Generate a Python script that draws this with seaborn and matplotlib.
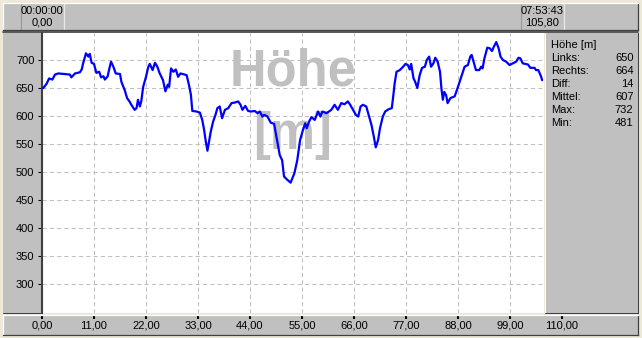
import matplotlib
matplotlib.use("Agg")
import matplotlib.pyplot as plt
import matplotlib.transforms as mtransforms
from matplotlib.patches import Rectangle
from matplotlib.lines import Line2D
import seaborn as sns
import pandas as pd

# ---------------- data ----------------
dist_km = [0.0, 0.3, 1.0, 1.5, 2.2, 2.75, 3.45, 5.9, 6.2, 7.0, 8.0, 8.4, 8.7, 9.3, 9.8,
           10.1, 10.5, 11.0, 11.5, 12.1, 12.5, 13.0, 13.3, 13.9, 14.2, 14.6, 15.1, 15.6,
           16.5, 16.8, 17.5, 18.0, 18.5, 18.9, 19.6, 20.0, 20.3, 20.7, 21.0, 21.4, 22.0,
           22.5, 22.8, 23.4, 23.9, 24.4, 24.9, 25.6, 26.1, 26.6, 26.9, 27.3, 27.8, 28.3,
           28.8, 29.3, 30.6, 31.1, 31.5, 31.8, 32.7, 33.4, 33.9, 34.3, 34.6, 35.0, 35.4,
           35.7, 36.2, 36.7, 37.1, 37.6, 38.1, 38.7, 39.4, 40.1, 40.8, 41.5, 42.0, 42.4,
           43.0, 43.6, 44.2, 45.0, 45.6, 46.1, 46.6, 47.0, 47.7, 48.4, 49.1, 49.6, 50.3,
           50.8, 51.2, 51.9, 52.6, 53.4, 54.0, 54.6, 55.2, 55.7, 56.0, 56.5, 57.0, 57.7,
           58.4, 58.9, 59.3, 60.2, 61.2, 61.9, 62.6, 63.3, 64.0, 64.7, 65.2, 65.8, 66.4,
           66.9, 67.4, 67.9, 68.6, 69.2, 69.7, 70.2, 70.6, 71.1, 71.5, 72.1, 72.6, 73.3,
           74.0, 74.3, 74.6, 75.0, 75.7, 76.4, 76.9, 77.4, 77.8, 78.1, 78.6, 78.9, 79.4,
           79.9, 80.4, 81.0, 81.4, 81.9, 82.3, 82.8, 83.2, 83.7, 84.2, 84.5, 84.8, 85.1,
           85.5, 85.8, 86.4, 87.3, 88.0, 88.7, 89.4, 90.1, 90.6, 90.9, 91.3, 91.8, 92.5,
           92.9, 93.2, 93.6, 94.2, 94.7, 95.2, 95.6, 96.1, 96.6, 97.0, 97.5, 98.2, 98.9,
           99.6, 100.3, 100.8, 101.2, 101.7, 102.8, 103.3, 104.2, 104.5, 105.0, 105.6, 105.8]
elev_m = [650, 650, 658, 667, 665, 674, 676, 674, 669, 676, 678, 683, 694, 712, 706,
          711, 695, 693, 677, 679, 669, 671, 665, 671, 683, 697, 688, 676,
          675, 661, 646, 632, 626, 620, 611, 614, 629, 617, 626, 652, 670,
          688, 693, 682, 695, 688, 676, 664, 644, 656, 652, 685, 679, 683,
          670, 676, 673, 655, 638, 609, 608, 606, 593, 575, 557, 538, 557,
          572, 590, 602, 614, 617, 596, 611, 614, 623, 624, 626, 620, 611,
          618, 609, 608, 609, 605, 608, 599, 602, 599, 588, 586, 563, 530,
          521, 492, 486, 481, 498, 521, 557, 575, 587, 578, 590, 598, 593,
          608, 599, 608, 605, 611, 620, 611, 623, 621, 626, 620, 611, 602,
          599, 617, 620, 617, 599, 584, 563, 544, 557, 578, 599, 608, 612,
          614, 635, 658, 679, 682, 688, 693, 691, 683, 693, 667, 662, 650,
          673, 686, 688, 700, 706, 688, 694, 704, 697, 679, 649, 629, 643,
          637, 623, 632, 635, 652, 670, 688, 691, 706, 709, 697, 682, 682,
          688, 685, 703, 722, 721, 716, 724, 732, 721, 706, 700, 697, 691,
          694, 697, 704, 703, 694, 692, 686, 686, 682, 682, 670, 664]

x_ticks = [0, 11, 22, 33, 44, 55, 66, 77, 88, 99, 110]
x_tick_labels = ["0,00", "11,00", "22,00", "33,00", "44,00", "55,00",
                 "66,00", "77,00", "88,00", "99,00", "110,00"]
y_ticks = [300, 350, 400, 450, 500, 550, 600, 650, 700]

panel_title = "Höhe [m]"
stat_names = ["Links:", "Rechts:", "Diff:", "Mittel:", "Max:", "Min:"]
stat_values = [650, 664, 14, 607, 732, 481]
watermark_lines = ["Höhe", "[m]"]
start_km, start_time, start_dist = 0.0, "00:00:00", "0,00"
end_km, end_time, end_dist = 105.8, "07:53:43", "105,80"

# ---------------- layout / style ----------------
sns.set_theme(style="white")
plt.rcParams['font.family'] = ['Liberation Sans', 'DejaVu Sans']

W, H = 642, 338
SCALE = 4.727          # pixels per km
ZERO_PX = 42           # pixel column of km 0
GRAY, DARK, LIGHT = '#C0C0C0', '#404040', '#FFFFFF'
FS = 8

fig = plt.figure(figsize=(W / 100, H / 100), dpi=100)
fig.patch.set_facecolor('#ECE9D8')
px = mtransforms.Affine2D().scale(1 / W, -1 / H).translate(0, 1) + fig.transFigure


def box(x0, y0, x1, y1):
    return [x0 / W, 1 - y1 / H, (x1 - x0) / W, (y1 - y0) / H]


def hline(x0, x1, y, color, lw=0.75, z=-1):
    fig.add_artist(Line2D([x0, x1], [y, y], transform=px, color=color, lw=lw, zorder=z))


def vline(x, y0, y1, color, lw=0.75, z=-1):
    fig.add_artist(Line2D([x, x], [y0, y1], transform=px, color=color, lw=lw, zorder=z))


def rect(x0, y0, x1, y1, color=GRAY, z=-2):
    fig.add_artist(Rectangle((x0, y0), x1 - x0, y1 - y0, transform=px,
                             facecolor=color, edgecolor='none', zorder=z))


# left panel and right stats panel
rect(3, 33, 41, 313)
hline(3, 41, 312.5, DARK)
rect(545, 33, 638, 313)
vline(545, 33, 313, LIGHT)
hline(545, 638, 312.5, DARK)
vline(637.5, 33, 313, DARK)
# dark separator line under top bar
hline(3, 638, 31.8, DARK, lw=1.2)

# stats text
fig.text(551, 44.5, panel_title, transform=px, ha='left', va='center', fontsize=FS, color='black')
for i, (name, val) in enumerate(zip(stat_names, stat_values)):
    y = 57.7 + 13 * i
    fig.text(551, y, name, transform=px, ha='left', va='center', fontsize=FS, color='black')
    fig.text(633.5, y, str(val), transform=px, ha='right', va='center', fontsize=FS, color='black')

# ---------------- main plot ----------------
ax = fig.add_axes(box(42, 33, 544, 313))
ax.set_facecolor('white')
df = pd.DataFrame({"km": dist_km, "hoehe": elev_m})
sns.lineplot(data=df, x="km", y="hoehe", ax=ax, color='#0000FF', linewidth=1.6,
             zorder=3, estimator=None, sort=False)
ax.set_xlim(0, (544 - ZERO_PX) / SCALE)
ax.set_ylim(248.2, 748.2)
ax.set_xticks(x_ticks[:-1])
ax.set_yticks(y_ticks)
ax.set_yticklabels([str(v) for v in y_ticks])
ax.set_xlabel("")
ax.set_ylabel("")
ax.set_axisbelow(True)
ax.grid(True, color=GRAY, linestyle=(0, (4, 3)), linewidth=0.75)
ax.tick_params(axis='x', length=0, labelbottom=False, bottom=False)
ax.tick_params(axis='y', left=True, direction='out', length=3, width=0.75,
               color='black', labelsize=FS, labelcolor='black', pad=2.5)
for s in ['top', 'right', 'bottom']:
    ax.spines[s].set_visible(False)
ax.spines['left'].set_color(DARK)
ax.spines['left'].set_linewidth(1.5)

ax.text(0.5, 0.8125, watermark_lines[0], transform=ax.transAxes, ha='center',
        va='baseline', fontsize=36.5, fontweight='bold', color=GRAY, zorder=1)
ax.text(0.5, 0.586, watermark_lines[1], transform=ax.transAxes, ha='center',
        va='baseline', fontsize=36.5, fontweight='bold', color=GRAY, zorder=1)

# ---------------- bottom axis bar ----------------
bx = fig.add_axes(box(3, 315, 638, 335))
bx.set_facecolor(GRAY)
bx.set_xlim((3 - ZERO_PX) / SCALE, (638 - ZERO_PX) / SCALE)
bx.set_ylim(0, 1)
bx.set_yticks([])
bx.set_xticks(x_ticks)
bx.set_xticklabels(x_tick_labels)
bx.tick_params(axis='x', top=True, bottom=False, labeltop=False, labelbottom=True,
               direction='in', length=3, width=1.5, color='black',
               labelsize=FS, labelcolor='black', pad=-10.6)
bx.spines['top'].set_color(LIGHT)
bx.spines['left'].set_color(LIGHT)
bx.spines['bottom'].set_color(DARK)
bx.spines['right'].set_color(DARK)
for s in bx.spines.values():
    s.set_linewidth(0.9)

# ---------------- top marker bar ----------------
tx = fig.add_axes(box(3, 3, 638, 30))
tx.set_facecolor(GRAY)
tx.set_xlim((3 - ZERO_PX) / SCALE, (638 - ZERO_PX) / SCALE)
tx.set_ylim(0, 1)
tx.set_xticks([])
tx.set_yticks([])
tx.spines['top'].set_color(LIGHT)
tx.spines['left'].set_color(LIGHT)
tx.spines['bottom'].set_color(DARK)
tx.spines['right'].set_color(DARK)
for s in tx.spines.values():
    s.set_linewidth(0.9)
half = 21.5 / SCALE
for km, t, d in [(start_km, start_time, start_dist), (end_km, end_time, end_dist)]:
    tx.plot([km - half, km - half], [0, 1], color='#9A9A9A', lw=0.9)
    tx.plot([km + half, km + half], [0, 1], color='#E8E8E8', lw=0.9)
    tx.text(km, 0.72, t, ha='center', va='center', fontsize=FS, color='black')
    tx.text(km, 0.26, d, ha='center', va='center', fontsize=FS, color='black')

fig.savefig("out.png", dpi=100, facecolor=fig.get_facecolor())
